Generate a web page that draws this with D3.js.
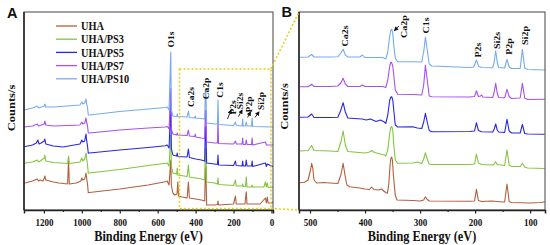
<!DOCTYPE html>
<html><head><meta charset="utf-8">
<script src="https://cdn.jsdelivr.net/npm/d3@7"></script>
<style>
html,body{margin:0;padding:0;background:#fff;}
svg{display:block;}
text{font-weight:bold;fill:#111;}
</style></head><body>
<svg id="c" width="550" height="245"></svg>
<script>
// ---------------- DATA ----------------
const seriesNames  = ["UHA","UHA/PS3","UHA/PS5","UHA/PS7","UHA/PS10"];
const seriesColors = ["#b0603c","#84c440","#2626e6","#a552ee","#76aaf0"];

// Survey spectra (panel A): [binding energy eV, counts a.u. incl. stacking offset]
const surveyUHA = [[1305,27],[1295,27.3],[1260,29],[1235,31],[1228,29],[1220,30],[1205,29],[1198,32],[1195,34],[1190,30],[1150,28],[1120,27],[1075,26],[1070,51],[1066,26],[1030,27],[1005,29],[1000,32],[995,30],[985,31],[978,37],[975,32],[970,26],[966,17.3],[960,17.5],[800,21],[650,25],[560,28.3],[550,29],[540,25],[531,50],[528,25],[520,17],[510,15],[498,16],[494,28],[490,14],[470,13],[445,12],[438,28],[433,12],[400,11],[370,10],[352,9],[349,40],[346,43],[342,5],[300,5],[285,5.5],[282,9],[279,5],[200,6],[190,14],[186,6],[140,6],[133,18.3],[129,6],[60,6],[32,12],[27,7],[22,13],[18,7],[0,7],[-8,8]];
const surveyPS3 = [[1305,46.7],[1260,48],[1235,50],[1228,48],[1220,49],[1198,52],[1195,55],[1190,49],[1150,47.5],[1075,46.5],[1070,54],[1066,46.5],[1010,48],[1000,52],[995,49],[985,51],[978,57],[975,52],[970,45],[966,36.7],[960,37],[800,40.5],[650,44.5],[560,46.7],[550,47],[540,44],[531,75],[528,44],[520,37],[500,36],[497,42],[494,35],[445,33.5],[438,45],[433,33],[400,32],[370,31],[352,30],[349,60],[346,62],[342,28],[300,27],[285,26],[282,32],[279,25.5],[200,24.5],[190,30],[186,24],[155,24],[152,26],[149,23.5],[137,23.5],[133,33],[129,23],[105,23],[102,25],[99,23],[40,23],[32,28],[27,23],[22,27],[18,22.5],[-8,22.7]];
const surveyPS5 = [[1305,63.3],[1260,65],[1240,67],[1232,70],[1226,66],[1215,67],[1198,69],[1195,71],[1190,66],[1150,64],[1100,63],[1010,66],[1000,70],[995,68],[985,69],[978,76],[975,70],[970,64],[966,56.7],[960,57],[800,60],[650,62.5],[560,64.3],[550,65],[540,62],[531,107],[528,62],[520,55],[500,54],[497,57],[494,53.5],[445,53],[438,61],[433,52.5],[400,51],[370,50],[352,49],[349,82],[346,84],[342,47],[300,46],[285,45.5],[282,55],[279,45],[200,44.5],[190,49],[186,44.5],[155,44],[152,49],[149,44],[137,44],[133,50],[129,44],[105,44],[102,49],[99,43.5],[32,47],[27,43.5],[22,46],[-8,43.3]];
const surveyPS7 = [[1305,83],[1260,84],[1235,86],[1228,84],[1198,86],[1195,89],[1190,85],[1150,84],[1010,85],[1000,88],[995,86],[985,87],[978,92],[975,88],[970,84],[966,77],[960,77],[800,80],[650,82],[560,83],[550,83.5],[540,81],[531,122],[528,81],[520,76],[500,75],[497,77],[494,75],[445,74.5],[438,80],[433,74],[405,73.5],[402,76],[399,73],[370,72],[352,71.5],[349,98],[346,100],[342,68],[300,67],[285,67],[282,90],[279,66.5],[200,66],[190,69],[186,66],[155,66],[152,72],[149,65.5],[137,65.5],[133,70],[129,65.5],[105,65.5],[102,72],[99,65],[32,68],[27,65],[-8,65]];
const surveyPS10 = [[1305,100],[1260,102],[1235,104],[1228,102],[1198,104],[1195,106],[1190,103],[1150,103],[1010,105],[1000,108],[995,106],[985,107],[978,111],[975,107],[970,102],[966,95],[960,95],[800,98.5],[650,101],[560,102.5],[550,103],[540,100],[531,158],[528,100],[520,94],[500,93.5],[497,96],[494,93.5],[445,93],[438,99],[433,92.5],[405,92],[402,94],[399,92],[370,91.5],[352,91],[349,118],[346,120],[342,87],[300,86],[285,86],[282,110],[279,85.5],[200,84.5],[190,88],[186,84.5],[155,84],[152,91],[149,84],[137,84],[133,88],[129,84],[105,84],[102,92],[99,83.5],[-8,83]];

// Detail spectra (panel B)
const detailUHA = [[518,27.3],[510,27.7],[503.6,30],[499,40],[497,46.7],[495,42],[492.7,30],[488,27],[475,27.5],[463.8,27],[449.4,26.5],[443.9,35],[439.8,46.7],[436.5,35],[433,25],[428,23.3],[410,22],[400,21],[392,20.5],[388,23],[384,20.5],[375,20],[370,21],[366,19],[362.3,17.5],[359.5,16.7],[357,25],[354.5,45],[352.9,52],[351.5,53],[350.3,50],[348.5,35],[345.1,15],[342,10],[313,9.5],[300,9],[293.4,10],[290.3,13.3],[287,10.5],[283,9],[210,8.7],[201,9],[197.6,20.7],[194,9.5],[188,8.5],[170,9],[150,8],[146.3,8],[142.1,26],[138.1,8.5],[133.6,7.5],[100,7],[80,7.5],[73.5,8.3]];
const detailPS3 = [[518,59],[503.6,59.5],[497,64.5],[492.7,59.5],[463.8,59],[449.4,58.5],[443.9,68],[439.8,79],[435.8,65],[431.3,58.5],[400,57],[392,58],[388,59.5],[383,57.5],[372,56],[365,55],[362.3,54],[358.7,60],[355.1,77],[352.9,83],[351.5,83.5],[349.6,80],[347.8,65],[345.1,50],[340.6,46.7],[313.3,47],[305,48],[297,46.5],[293.4,51],[290.3,57.3],[287,51],[283.4,46],[278.8,45.5],[210,45.5],[201,46],[197.6,56],[194,47],[188,45.5],[168,45],[165.3,46],[162.6,48.3],[159.8,45.5],[146.3,44.5],[142.1,60],[138.1,45],[133.6,43.5],[118.1,43.5],[114.1,46.7],[109.9,43],[104.5,42],[73.5,41.5]];
const detailPS5 = [[518,92.7],[503.6,93],[497,96],[492.7,92.5],[463.8,92.5],[449.4,92.7],[443.9,100],[439.8,107.3],[435.8,98],[431.3,92],[420,91.5],[405,91],[398,90],[390,91],[380,88.5],[372,90],[365,88],[362.3,86.7],[358.7,95],[355.1,110],[352.9,113],[351.5,113.3],[349.6,110],[347.8,100],[345.1,85],[340.6,83],[313.3,83.3],[305,82],[297,81.5],[293.4,88],[290.3,96.7],[287,88],[283.4,79.5],[278.8,78.3],[210,78.5],[201,79],[197.6,87.3],[194,79.5],[188,78.3],[168,78],[165.3,81],[162.6,86],[159.8,80],[157.2,78],[146.3,77.5],[142.1,90.7],[138.1,79],[133.6,77],[118.1,77],[114.1,85.7],[109.9,76.5],[104.5,76],[73.5,75.7]];
const detailPS7 = [[518,123.3],[503.6,123.3],[497,125.7],[492.7,123.5],[463.8,123.5],[449.4,124],[443.9,127],[439.8,131.7],[435.8,126],[431.3,123.5],[409.5,123.5],[404.6,125],[400.5,123.5],[367.8,123.5],[362.3,122.5],[358.7,130],[355.1,144],[352.9,148],[351.5,147],[349.6,144],[347.8,135],[345.1,120],[340.6,115.7],[313.3,115.5],[297,115],[293.4,125],[290.3,145],[287,130],[283.4,114],[278.8,113.3],[210,113],[201,113.5],[197.6,119.3],[194,113.5],[190,114],[188,115],[186,113],[168,112.5],[165.3,118],[162.6,126.7],[159.8,117],[157.2,112.5],[146.3,112.2],[142.1,120.7],[138.1,113.5],[133.6,111.5],[118.1,112],[114.1,126.7],[109.9,112],[104.5,110.5],[73.5,110.7]];
const detailPS10 = [[518,152.7],[503.6,153],[497,155.5],[492.7,153],[463.8,153],[449.4,153.3],[443.9,157],[439.8,160.7],[435.8,155],[431.3,153],[409.5,153],[404.6,155],[400.5,152.5],[367.8,152.5],[362.3,151],[358.7,158],[355.1,174],[352.9,180],[351.5,180.7],[349.6,177],[347.8,165],[345.1,152],[340.6,148.3],[313.3,148.3],[297,148],[293.4,158],[290.3,172.7],[287,160],[283.4,146],[278.8,144],[209.8,142.5],[202.5,143],[197.6,150],[193.4,143.5],[188,142.5],[168,142.2],[165.3,148],[162.6,159.3],[159.8,148],[157.2,142.5],[146.3,142],[142.1,150.7],[138.1,143],[133.6,141.5],[118.1,141.5],[114.1,160.7],[109.9,142],[104.5,140.5],[73.5,140]];

const ticksA = [1200,1000,800,600,400,200,0];
const minorTicksA = [1100,900,700,500,300,100];
const ticksB = [500,400,300,200,100];
const minorTicksB = [450,350,250,150];

const peakNamesA = ["O1s","Ca2s","Ca2p","C1s","P2s","Si2s","P2p","Si2p"];
const peakNamesB = ["Ca2s","Ca2p","C1s","P2s","Si2s","P2p","Si2p"];

// ---------------- LAYOUT / ANNOTATION POSITIONS ----------------
const labelPosA = [[526,170.5],[424,113],[345,121.5],[269,120],[200,102.5],[163,109],[116,105.5],[55,109]];
const labelPosB = [[436,174],[329,183.5],[288,184.5],[195,160],[159,169.5],[138.4,163.5],[109.3,174.5]];
const labelColB = ["#111","#111","#111","#111","#c0442c","#111","#c83a30"];
const arrowsA = [[[213,100],[232,91]],[[155,100],[174,93.5]],[[111,98],[126,92.5]],[[66,98],[87,92.5]]];
const arrowsB = [[[338.3,184],[346.5,179.5]]];
const zoomBox = {evFrom:485, evTo:3, top:141, bottom:1.5};

const SERIF = '"Liberation Serif","Times New Roman",serif';
const SANS = '"Liberation Sans",Arial,sans-serif';
const svg = d3.select("#c");
const y  = d3.scaleLinear().domain([0,198]).range([210,12]);
const xA = d3.scaleLinear().domain([1305,-8]).range([24,273]);
const xB = d3.scaleLinear().domain([520,73]).range([299,545]);

const defs = svg.append("defs");
defs.append("clipPath").attr("id","clipA").append("rect").attr("x",24).attr("y",12).attr("width",249).attr("height",198);
defs.append("clipPath").attr("id","clipB").append("rect").attr("x",299).attr("y",12).attr("width",246).attr("height",198);
defs.append("marker").attr("id","ah").attr("viewBox","0 0 10 10").attr("refX",8).attr("refY",5)
  .attr("markerWidth",5).attr("markerHeight",5).attr("orient","auto")
  .append("path").attr("d","M0,0L10,5L0,10z").attr("fill","#111");

function drawPanel(x, series, clip, ticks, minor) {
  const xRange = x.range();
  const line = d3.line().x(d=>x(d[0])).y(d=>y(d[1]));
  const g = svg.append("g").attr("clip-path",`url(#${clip})`);
  series.forEach((s,i)=>{
    g.append("path").datum(s).attr("d",line).attr("fill","none")
     .attr("stroke",seriesColors[i]).attr("stroke-width",1.1).attr("stroke-linejoin","round");
  });
  svg.append("rect").attr("x",xRange[0]).attr("y",y(198)).attr("width",xRange[1]-xRange[0])
     .attr("height",y(0)-y(198)).attr("fill","none").attr("stroke","#555").attr("stroke-width",1.1);
  svg.append("line").attr("x1",xRange[0]).attr("x2",xRange[0]).attr("y1",y(198)).attr("y2",y(0)).attr("stroke","#222").attr("stroke-width",1.5);
  const ax = svg.append("g").attr("transform",`translate(0,${y(0)})`)
    .call(d3.axisBottom(x).tickValues(ticks).tickSize(3.5).tickFormat(d3.format("d")));
  ax.select(".domain").attr("stroke","#222").attr("stroke-width",1.5);
  ax.selectAll(".tick line").attr("stroke","#222").attr("stroke-width",1.2);
  ax.selectAll(".tick text").attr("y",16).attr("dy",0).attr("font-size",11)
    .style("font-family",SERIF).style("font-weight","bold").attr("fill","#111")
    .attr("transform","scale(0.82,1)");
  const mx = svg.append("g").attr("transform",`translate(0,${y(0)})`)
    .call(d3.axisBottom(x).tickValues(minor).tickSize(2).tickFormat(""));
  mx.select(".domain").remove();
  mx.selectAll(".tick line").attr("stroke","#222").attr("stroke-width",1.1);
  const cx = (xRange[0]+xRange[1])/2;
  svg.append("text").attr("transform",`translate(${cx},241) scale(0.82,1)`).style("font-family",SERIF)
     .attr("text-anchor","middle").attr("font-size",15).text("Binding Energy (eV)");
}

drawPanel(xA,[surveyUHA,surveyPS3,surveyPS5,surveyPS7,surveyPS10],"clipA",ticksA,minorTicksA);
drawPanel(xB,[detailUHA,detailPS3,detailPS5,detailPS7,detailPS10],"clipB",ticksB,minorTicksB);

[[12,108],[284.5,106.5]].forEach(p=>{
  svg.append("text").attr("transform",`translate(${p[0]},${p[1]}) rotate(-90) scale(1,0.85)`).style("font-family",SERIF)
    .attr("text-anchor","middle").attr("dominant-baseline","central").attr("font-size",12.5).text("Counts/s");
});

svg.append("text").attr("x",7).attr("y",18.3).style("font-family",SANS).attr("font-size",14.5).text("A");
svg.append("text").attr("x",281.5).attr("y",16.8).style("font-family",SANS).attr("font-size",14.5).text("B");

const leg = svg.append("g");
seriesNames.forEach((n,i)=>{
  const ly = 26 + i*13.2;
  leg.append("line").attr("x1",56).attr("x2",77).attr("y1",ly).attr("y2",ly)
     .attr("stroke",seriesColors[i]).attr("stroke-width",1.3);
  leg.append("text").attr("transform",`translate(81,${ly}) scale(0.86,1)`).style("font-family",SERIF)
     .attr("dominant-baseline","central").attr("font-size",12).text(n);
});

function peakLabels(x, names, pos, size, cols) {
  names.forEach((n,i)=>{
    svg.append("text").attr("transform",`translate(${x(pos[i][0])},${y(pos[i][1])}) rotate(-90) scale(1,0.85)`)
      .style("font-family",SERIF).attr("text-anchor","middle").attr("dominant-baseline","central")
      .attr("font-size",size).attr("fill",cols?cols[i]:"#111").text(n);
  });
}
peakLabels(xA, peakNamesA, labelPosA, 9.5);
peakLabels(xB, peakNamesB, labelPosB, 10, labelColB);
function arrows(x, list){
  list.forEach(a=>{
    svg.append("line").attr("x1",x(a[0][0])).attr("y1",y(a[0][1])).attr("x2",x(a[1][0])).attr("y2",y(a[1][1]))
      .attr("stroke","#111").attr("stroke-width",0.9).attr("marker-end","url(#ah)");
  });
}
arrows(xA, arrowsA.map(a=>[a[1],a[0]]));
arrows(xB, arrowsB);

const yel = "#e2d21c";
svg.append("rect").attr("x",xA(zoomBox.evFrom)).attr("y",y(zoomBox.top))
  .attr("width",xA(zoomBox.evTo)-xA(zoomBox.evFrom)).attr("height",y(zoomBox.bottom)-y(zoomBox.top))
  .attr("fill","none").attr("stroke",yel).attr("stroke-width",1.6).attr("stroke-dasharray","2,2");
svg.append("line").attr("x1",xA(zoomBox.evTo)).attr("y1",y(zoomBox.top)).attr("x2",xB.range()[0]).attr("y2",y(198))
  .attr("stroke",yel).attr("stroke-width",1.6).attr("stroke-dasharray","2,2");
svg.append("line").attr("x1",xA(zoomBox.evTo)).attr("y1",y(zoomBox.bottom)).attr("x2",xB.range()[0]).attr("y2",y(0))
  .attr("stroke",yel).attr("stroke-width",1.6).attr("stroke-dasharray","2,2");
</script>
</body></html>
